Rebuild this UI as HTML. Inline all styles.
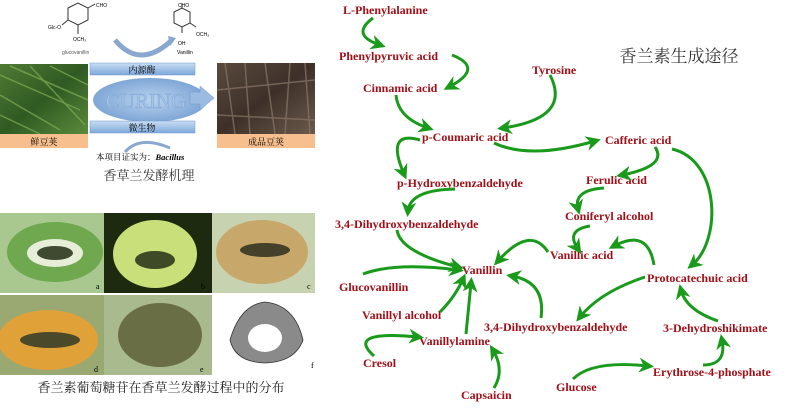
<!DOCTYPE html>
<html><head><meta charset="utf-8"><style>
html,body{margin:0;padding:0;background:#fff;}
body{width:790px;height:414px;overflow:hidden;position:relative;}
svg{position:absolute;left:0;top:0;}
.l{font-family:"Liberation Serif","Noto Serif CJK SC",serif;font-weight:bold;font-size:12px;fill:#a01018;}
.zh{font-family:"Liberation Serif","Noto Serif CJK SC",serif;}
.a{fill:none;stroke:#1a9a1a;stroke-width:3;marker-end:url(#ah);}
</style></head><body>
<svg width="790" height="414" viewBox="0 0 790 414">
<defs>
<marker id="ah" viewBox="0 0 10 10" refX="6" refY="5" markerWidth="5" markerHeight="5" orient="auto" markerUnits="strokeWidth">
<path d="M0,0 L10,5 L0,10 L3,5 z" fill="#1a9a1a"/></marker>
<radialGradient id="cur" cx="50%" cy="50%" r="50%"><stop offset="0" stop-color="#b9d3ee"/><stop offset="1" stop-color="#7fa6d6"/></radialGradient>
<linearGradient id="bar" x1="0" y1="0" x2="0" y2="1"><stop offset="0" stop-color="#c9def4"/><stop offset="1" stop-color="#7ea8db"/></linearGradient>
<linearGradient id="fresh" x1="0" y1="0" x2="1" y2="1"><stop offset="0" stop-color="#4f7a35"/><stop offset=".5" stop-color="#2f5a22"/><stop offset="1" stop-color="#5b8a3c"/></linearGradient>
<linearGradient id="cured" x1="0" y1="0" x2="1" y2="1"><stop offset="0" stop-color="#5a4a3e"/><stop offset=".5" stop-color="#3e3029"/><stop offset="1" stop-color="#6b5a4c"/></linearGradient>
</defs>

<g stroke="#333" stroke-width="1" fill="none">
<polygon points="68,8 78,3 88,8 88,20 78,25 68,20"/>
<line x1="88" y1="8" x2="95" y2="4"/><line x1="68" y1="20" x2="62" y2="25"/><line x1="78" y1="25" x2="78" y2="34"/>
<polygon points="174,12 182,8 190,12 190,23 182,27 174,23"/>
<line x1="182" y1="8" x2="182" y2="3"/><line x1="182" y1="27" x2="182" y2="33"/><line x1="190" y1="23" x2="196" y2="27"/>
</g>
<text x="96" y="7" font-size="5" font-family="Liberation Sans">CHO</text>
<text x="48" y="29" font-size="5" font-family="Liberation Sans">Glc-O</text>
<text x="73" y="41" font-size="5" font-family="Liberation Sans">OCH₃</text>
<text x="62" y="54" font-size="5" fill="#555" font-family="Liberation Sans">glucovanillin</text>
<text x="178" y="7" font-size="5" font-family="Liberation Sans">CHO</text>
<text x="178" y="45" font-size="5" font-family="Liberation Sans">OH</text>
<text x="196" y="36" font-size="5" font-family="Liberation Sans">OCH₃</text>
<text x="177" y="54" font-size="5" font-family="Liberation Sans">Vanillin</text>
<path d="M115,40 Q140,70 172,40" fill="none" stroke="#8aa8cf" stroke-width="5"/>
<path d="M168,36 L176,38 L170,46z" fill="#8aa8cf"/>

<rect x="0" y="64" width="88" height="70" fill="url(#fresh)"/>
<g stroke="#7fae55" stroke-width="1.5" opacity=".7">
<line x1="0" y1="75" x2="80" y2="110"/><line x1="10" y1="66" x2="88" y2="100"/><line x1="0" y1="95" x2="60" y2="130"/><line x1="30" y1="66" x2="85" y2="125"/><line x1="0" y1="115" x2="40" y2="134"/><line x1="50" y1="66" x2="88" y2="85"/></g>
<rect x="0" y="134" width="88" height="14" fill="#f6bf8d"/>
<text x="44" y="145" text-anchor="middle" class="zh" font-size="9">鲜豆荚</text>
<rect x="217" y="63" width="98" height="71" fill="url(#cured)"/>
<g stroke="#8a7767" stroke-width="1.5" opacity=".7">
<line x1="225" y1="63" x2="235" y2="134"/><line x1="245" y1="63" x2="250" y2="134"/><line x1="265" y1="63" x2="275" y2="134"/><line x1="290" y1="63" x2="285" y2="134"/><line x1="305" y1="63" x2="310" y2="134"/><line x1="217" y1="90" x2="315" y2="80"/><line x1="217" y1="115" x2="315" y2="120"/></g>
<rect x="217" y="134" width="98" height="14" fill="#f6bf8d"/>
<text x="266" y="145" text-anchor="middle" class="zh" font-size="9">成品豆荚</text>

<ellipse cx="150" cy="100" rx="57" ry="22" fill="url(#cur)"/>
<text x="146" y="108" text-anchor="middle" font-family="Liberation Serif" font-size="21" fill="#a7c4e6" stroke="#7fa6d6" stroke-width=".5">CURING</text>
<path d="M190,92 L200,92 L200,86 L214,98 L200,110 L200,104 L190,104z" fill="#9cbbe2" stroke="#6f97c8" stroke-width=".5"/>
<rect x="90" y="63" width="105" height="12" fill="url(#bar)" stroke="#6f97c8" stroke-width=".5"/>
<text x="142" y="73" text-anchor="middle" class="zh" font-size="9">内源酶</text>
<rect x="90" y="121" width="105" height="12" fill="url(#bar)" stroke="#6f97c8" stroke-width=".5"/>
<text x="142" y="131" text-anchor="middle" class="zh" font-size="9">微生物</text>
<path d="M125,152 Q140,135 170,148" fill="none" stroke="#8aa8cf" stroke-width="3"/>
<text x="96" y="160" class="zh" font-size="8.5">本项目证实为：<tspan font-weight="bold" font-style="italic">Bacillus</tspan></text>
<text x="149" y="180" text-anchor="middle" class="zh" font-size="13" fill="#333">香草兰发酵机理</text>

<rect x="0" y="213" width="104" height="80" fill="#a8c890"/>
<ellipse cx="55" cy="252" rx="48" ry="30" fill="#6fa84e"/><ellipse cx="55" cy="253" rx="28" ry="14" fill="#e6eed8"/><ellipse cx="55" cy="253" rx="18" ry="7" fill="#3f4a30"/>
<rect x="104" y="213" width="108" height="80" fill="#1d2a10"/>
<ellipse cx="155" cy="254" rx="42" ry="34" fill="#c9e07a"/><ellipse cx="155" cy="260" rx="20" ry="9" fill="#3d4a25"/>
<rect x="212" y="213" width="103" height="80" fill="#c7d2b0"/>
<ellipse cx="262" cy="252" rx="46" ry="32" fill="#c8a86a"/><ellipse cx="265" cy="250" rx="25" ry="7" fill="#45402a"/>
<rect x="0" y="295" width="104" height="80" fill="#9aa872"/>
<ellipse cx="48" cy="340" rx="50" ry="30" fill="#e0a238"/><ellipse cx="50" cy="340" rx="30" ry="8" fill="#4a4a2a"/>
<rect x="104" y="295" width="108" height="80" fill="#a9bb8e"/>
<ellipse cx="160" cy="335" rx="42" ry="32" fill="#6a6e45"/>
<path d="M230,340 Q240,305 265,302 Q295,305 303,340 Q295,362 265,363 Q235,362 230,340z" fill="#8a8a8a" stroke="#333" stroke-width=".8"/>
<ellipse cx="265" cy="338" rx="17" ry="14" fill="#fff"/>
<text x="311" y="368" font-size="8" font-family="Liberation Serif">f</text>
<g font-size="8" font-family="Liberation Serif"><text x="96" y="289">a</text><text x="201" y="289">b</text><text x="307" y="289">c</text><text x="94" y="372">d</text><text x="200" y="372">e</text></g>
<text x="161" y="392" text-anchor="middle" class="zh" font-size="13" fill="#222">香兰素葡萄糖苷在香草兰发酵过程中的分布</text>

<text x="679" y="62" text-anchor="middle" font-family="Liberation Serif,Noto Serif CJK SC,serif" font-size="17" fill="#333">香兰素生成途径</text>
<g class="l">
<text x="343" y="14">L-Phenylalanine</text>
<text x="339" y="60">Phenylpyruvic acid</text>
<text x="363" y="92">Cinnamic acid</text>
<text x="532" y="74">Tyrosine</text>
<text x="422" y="141">p-Coumaric acid</text>
<text x="605" y="144">Cafferic acid</text>
<text x="397" y="187">p-Hydroxybenzaldehyde</text>
<text x="586" y="184">Ferulic acid</text>
<text x="565" y="220">Coniferyl alcohol</text>
<text x="335" y="228">3,4-Dihydroxybenzaldehyde</text>
<text x="550" y="259">Vanillic acid</text>
<text x="462" y="274">Vanillin</text>
<text x="339" y="291">Glucovanillin</text>
<text x="647" y="282">Protocatechuic acid</text>
<text x="362" y="319">Vanillyl alcohol</text>
<text x="484" y="331">3,4-Dihydroxybenzaldehyde</text>
<text x="663" y="332">3-Dehydroshikimate</text>
<text x="419" y="345">Vanillylamine</text>
<text x="363" y="367">Cresol</text>
<text x="653" y="376">Erythrose-4-phosphate</text>
<text x="556" y="391">Glucose</text>
<text x="461" y="399">Capsaicin</text>
</g>
<g class="a">
<path d="M373,18 Q350,35 380,45"/>
<path d="M452,55 Q485,68 449,87"/>
<path d="M396,95 Q398,118 428,128"/>
<path d="M550,75 Q572,118 503,128"/>
<path d="M494,143 Q530,160 595,141"/>
<path d="M420,140 Q385,130 404,174"/>
<path d="M455,189 Q410,190 408,211"/>
<path d="M655,147 Q668,166 622,175"/>
<path d="M672,149 C720,160 722,240 692,265"/>
<path d="M604,188 Q573,190 578,209"/>
<path d="M590,226 Q565,230 578,249"/>
<path d="M654,265 Q648,228 614,246"/>
<path d="M548,252 Q530,225 498,261"/>
<path d="M397,230 Q400,252 458,267"/>
<path d="M363,274 Q395,262 458,270"/>
<path d="M440,312 Q455,297 463,279"/>
<path d="M466,334 L471,283"/>
<path d="M541,318 Q546,282 512,276"/>
<path d="M645,277 Q600,292 580,317"/>
<path d="M718,321 Q686,310 681,290"/>
<path d="M703,365 Q727,365 722,340"/>
<path d="M573,379 Q592,360 648,366"/>
<path d="M374,356 Q345,330 418,337"/>
<path d="M494,388 Q505,370 493,350"/>
</g>
</svg>
</body></html>
